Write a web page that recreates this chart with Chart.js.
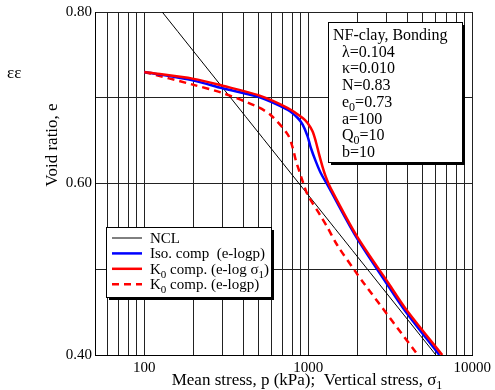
<!DOCTYPE html>
<html>
<head>
<meta charset="utf-8">
<script src="https://cdn.jsdelivr.net/npm/chart.js@4"></script>
<style>
  body { margin: 0; background: #fff; }
  canvas { display: block; }
</style>
</head>
<body>
<canvas id="chart" width="495" height="390"></canvas>
<script>
// Normal consolidation line
const nclP = [128.5, 6000];
const nclE = [0.80, 0.40];

// Isotropic compression (e-logp)
const isoP = [100, 200, 300, 495, 750, 862, 924, 990, 1037, 1111, 1191, 1307, 1950, 2990, 3850, 6300];
const isoE = [0.730, 0.720, 0.711, 0.701, 0.6857, 0.6764, 0.6686, 0.655, 0.6414, 0.6258, 0.6122, 0.5986, 0.5383, 0.484, 0.4528, 0.400];

// K0 compression (e-log sigma1)
const k0sP = [100, 200, 300, 495, 750, 924, 990, 1061, 1111, 1165, 1219, 1276, 1368, 1982, 3076, 3963, 6560];
const k0sE = [0.730, 0.722, 0.714, 0.703, 0.688, 0.6764, 0.6706, 0.6608, 0.649, 0.6336, 0.620, 0.6083, 0.5947, 0.5383, 0.484, 0.4528, 0.400];

// K0 compression (e-logp)
const k0pP = [100, 200, 300, 495, 596, 750, 804, 842, 883, 924, 990, 1191, 1307, 1503, 1935, 2175, 4660];
const k0pE = [0.730, 0.715, 0.7055, 0.689, 0.679, 0.657, 0.6414, 0.6258, 0.614, 0.6025, 0.587, 0.562, 0.549, 0.528, 0.4975, 0.484, 0.400];

const xGrid = [50, 60, 70, 80, 90, 100, 200, 300, 400, 500, 600, 700, 800, 900,
  1000, 2000, 3000, 4000, 5000, 6000, 7000, 8000, 9000, 10000];
const xLabels = [100, 1000, 10000];
const yLabels = [0.40, 0.60, 0.80];

const FONT = "'Liberation Serif', 'Times New Roman', serif";

function pts(xs, ys) {
  return xs.map((x, i) => ({ x: x, y: ys[i] }));
}

// draws text made of pieces, some of them subscripts
function richText(ctx, parts, x, y, size) {
  let cx = x;
  parts.forEach((p) => {
    const sub = Array.isArray(p);
    const t = sub ? p[0] : p;
    ctx.font = (sub ? Math.round(size * 0.72) : size) + 'px ' + FONT;
    ctx.fillText(t, cx, sub ? y + size * 0.25 : y);
    cx += ctx.measureText(t).width;
  });
  return cx - x;
}

function richWidth(ctx, parts, size) {
  let w = 0;
  parts.forEach((p) => {
    const sub = Array.isArray(p);
    const t = sub ? p[0] : p;
    ctx.font = (sub ? Math.round(size * 0.72) : size) + 'px ' + FONT;
    w += ctx.measureText(t).width;
  });
  return w;
}

const legendItems = [
  { ds: 0, text: ['NCL'] },
  { ds: 1, text: ['Iso. comp  (e-logp)'] },
  { ds: 2, text: ['K', ['0'], ' comp. (e-log ', 'σ', ['1'], ')'] },
  { ds: 3, text: ['K', ['0'], ' comp. (e-logp)'] }
];

const infoLines = [
  ['NF-clay, Bonding'],
  ['λ=0.104'],
  ['κ=0.010'],
  ['N=0.83'],
  ['e', ['0'], '=0.73'],
  ['a=100'],
  ['Q', ['0'], '=10'],
  ['b=10']
];

const decorations = {
  id: 'decorations',
  afterDraw(chart) {
    const ctx = chart.ctx;
    ctx.save();
    ctx.fillStyle = '#000';
    ctx.textBaseline = 'alphabetic';

    // stray label top-left
    ctx.font = '17px ' + FONT;
    ctx.fillText('εε', 7, 78);

    // y title
    ctx.save();
    ctx.translate(57, 145);
    ctx.rotate(-Math.PI / 2);
    ctx.font = '17px ' + FONT;
    ctx.textAlign = 'center';
    ctx.fillText('Void ratio, e', 0, 0);
    ctx.restore();

    // x title
    const xt = ['Mean stress, p (kPa);  Vertical stress, ', 'σ', ['1']];
    const w = richWidth(ctx, xt, 17);
    richText(ctx, xt, 307 - w / 2, 385, 17);

    // legend box
    const lx = 106, ly = 227, lw = 165, lh = 70;
    ctx.fillStyle = '#000';
    ctx.fillRect(lx + 3, ly + 3, lw, lh);
    ctx.fillStyle = '#fff';
    ctx.fillRect(lx, ly, lw, lh);
    ctx.strokeStyle = '#000';
    ctx.lineWidth = 1;
    ctx.strokeRect(lx + 0.5, ly + 0.5, lw, lh);
    legendItems.forEach((it, i) => {
      const ds = chart.data.datasets[it.ds];
      const yy = 238 + i * 15.4;
      ctx.save();
      ctx.strokeStyle = ds.borderColor;
      ctx.lineWidth = ds.borderWidth;
      ctx.setLineDash(ds.borderDash || []);
      ctx.beginPath();
      ctx.moveTo(112, yy);
      ctx.lineTo(142, yy);
      ctx.stroke();
      ctx.restore();
      ctx.fillStyle = '#000';
      richText(ctx, it.text, 150, yy + 5, 15);
    });

    // parameter box
    const bx = 328, by = 22, bw = 134, bh = 140;
    ctx.fillStyle = '#000';
    ctx.fillRect(bx + 3, by + 3, bw, bh);
    ctx.fillStyle = '#fff';
    ctx.fillRect(bx, by, bw, bh);
    ctx.strokeRect(bx + 0.5, by + 0.5, bw, bh);
    ctx.fillStyle = '#000';
    infoLines.forEach((ln, i) => {
      richText(ctx, ln, i === 0 ? 333 : 342, 40 + i * 16.7, 16);
    });

    ctx.restore();
  }
};

new Chart(document.getElementById('chart'), {
  type: 'line',
  data: {
    datasets: [
      {
        label: 'NCL',
        data: pts(nclP, nclE),
        borderColor: '#000',
        borderWidth: 1,
        order: 3
      },
      {
        label: 'Iso. comp (e-logp)',
        data: pts(isoP, isoE),
        borderColor: '#0000ff',
        borderWidth: 2.5,
        order: 1
      },
      {
        label: 'K0 comp. (e-log σ1)',
        data: pts(k0sP, k0sE),
        borderColor: '#ff0000',
        borderWidth: 2.5,
        order: 0
      },
      {
        label: 'K0 comp. (e-logp)',
        data: pts(k0pP, k0pE),
        borderColor: '#ff0000',
        borderWidth: 2.5,
        borderDash: [7, 5],
        order: 2
      }
    ]
  },
  options: {
    responsive: false,
    animation: false,
    layout: { padding: { top: 12, right: 18, left: 0, bottom: 0 } },
    elements: {
      point: { radius: 0 },
      line: { tension: 0.3 }
    },
    plugins: {
      legend: { display: false },
      tooltip: { enabled: false }
    },
    scales: {
      x: {
        type: 'logarithmic',
        min: 50,
        max: 10000,
        afterBuildTicks: (scale) => {
          scale.ticks = xGrid.map((v) => ({ value: v }));
        },
        afterFit: (scale) => { scale.height = 35; },
        grid: { color: '#222', lineWidth: 1, drawTicks: false },
        border: { color: '#000', width: 1 },
        ticks: {
          autoSkip: false,
          maxRotation: 0,
          padding: 4,
          color: '#000',
          font: { family: FONT, size: 15 },
          callback: (v) => (xLabels.includes(v) ? String(v) : '')
        }
      },
      y: {
        min: 0.4,
        max: 0.8,
        afterFit: (scale) => { scale.width = 95; },
        grid: { color: '#222', lineWidth: 1, drawTicks: false },
        border: { color: '#000', width: 1 },
        ticks: {
          stepSize: 0.1,
          padding: 3,
          color: '#000',
          font: { family: FONT, size: 15 },
          callback: (v) => (yLabels.some((l) => Math.abs(l - v) < 1e-6) ? v.toFixed(2) : '')
        }
      }
    }
  },
  plugins: [decorations]
});
</script>
</body>
</html>
